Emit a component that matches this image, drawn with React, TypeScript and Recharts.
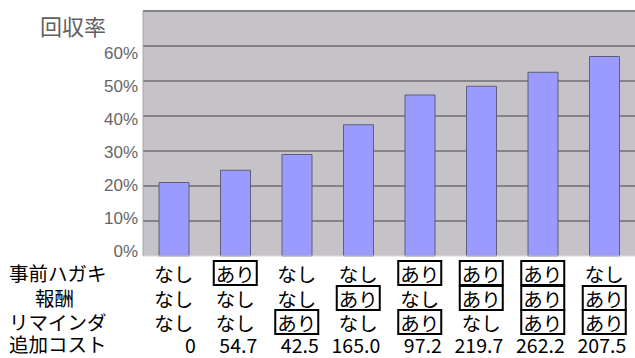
import React from 'react';
import { BarChart, Bar, XAxis, YAxis, CartesianGrid } from 'recharts';

const categories = ['c1', 'c2', 'c3', 'c4', 'c5', 'c6', 'c7', 'c8'];
const rates = [21, 24.5, 29, 37.5, 46, 48.5, 52.5, 57];
const hagaki = ['なし', 'あり', 'なし', 'なし', 'あり', 'あり', 'あり', 'なし'];
const reward = ['なし', 'なし', 'なし', 'あり', 'なし', 'あり', 'あり', 'あり'];
const reminder = ['なし', 'なし', 'あり', 'なし', 'あり', 'なし', 'あり', 'あり'];
const costs = ['0', '54.7', '42.5', '165.0', '97.2', '219.7', '262.2', '207.5'];
const rowLabels = ['事前ハガキ', '報酬', 'リマインダ', '追加コスト'];
const yTicks = [0, 10, 20, 30, 40, 50, 60];
const yTitle = '回収率';

const data = categories.map((c, i) => ({ cat: c, rate: rates[i], idx: i }));

const JP = '"Noto Sans CJK JP", "Noto Sans", sans-serif';
const FS = 19.5;

const Cell = ({ x, y, text }: { x: number; y: number; text: string }) => {
  const boxed = text === 'あり';
  return (
    <g>
      {boxed && (
        <rect x={x - 21.5} y={y - 12} width={43} height={24} fill="none" stroke="#000" strokeWidth={2} />
      )}
      <text x={x} y={y} textAnchor="middle" dominantBaseline="central" fontFamily={JP} fontSize={FS} fill="#000">
        {text}
      </text>
    </g>
  );
};

const XTick = (props: any) => {
  const { x, y, index } = props;
  const i = index as number;
  return (
    <g>
      <Cell x={x} y={y + 17} text={hagaki[i]} />
      <Cell x={x} y={y + 42} text={reward[i]} />
      <Cell x={x} y={y + 66} text={reminder[i]} />
      <text x={x + 22} y={y + 88} textAnchor="end" dominantBaseline="central" fontFamily={JP} fontSize={FS} fill="#000">
        {costs[i]}
      </text>
    </g>
  );
};

const YTick = (props: any) => {
  const { x, y, payload } = props;
  const v = payload.value as number;
  const dy = -5 + v * 0.2;
  return (
    <text x={x - 5} y={y + dy} textAnchor="end" dominantBaseline="central" fontFamily='"Liberation Sans", Arial, sans-serif' fontSize={17} fill="#666">
      {`${v}%`}
    </text>
  );
};

const GridLine = (p: any) => {
  if (Math.abs(p.y1 - (p.y + p.height)) < 1) return <g key={p.key} />;
  return <line key={p.key} x1={p.x1} y1={p.y1} x2={p.x2} y2={p.y2} stroke="#858387" strokeWidth={2} />;
};

export default function App() {
  return (
    <div style={{ position: 'absolute', left: 0, top: 0, width: 635, height: 358, background: '#fff' }}>
      <BarChart width={635} height={358} data={data} margin={{ top: 11, right: 0, left: 0, bottom: 0 }}>
        <CartesianGrid vertical={false} horizontal={GridLine as any} fill="#c5c3c7" stroke="#858387" />
        <XAxis
          dataKey="cat"
          height={102}
          interval={0}
          tickLine={false}
          tickSize={0}
          tickMargin={0}
          axisLine={{ stroke: '#d8d8d8', strokeWidth: 1 }}
          tick={<XTick />}
        />
        <YAxis
          width={143}
          domain={[0, 70]}
          ticks={yTicks}
          tickLine={false}
          tickSize={0}
          tickMargin={0}
          axisLine={{ stroke: '#a8a6aa', strokeWidth: 1 }}
          tick={<YTick />}
        />
        <Bar dataKey="rate" barSize={30} fill="#9a9aff" stroke="#5e5e78" strokeWidth={1} isAnimationActive={false} />
      </BarChart>
      <div style={{ position: 'absolute', left: 40, top: 11, fontFamily: JP, fontSize: 22, color: '#606060', lineHeight: '28px' }}>
        {yTitle}
      </div>
      {rowLabels.map((t, i) => (
        <div
          key={t}
          style={{
            position: 'absolute',
            left: i === 1 ? 35 : 9,
            top: [273, 298, 322, 344][i] - 14,
            fontFamily: JP,
            fontSize: FS,
            lineHeight: '28px',
            color: '#000',
            whiteSpace: 'nowrap',
          }}
        >
          {t}
        </div>
      ))}
    </div>
  );
}
